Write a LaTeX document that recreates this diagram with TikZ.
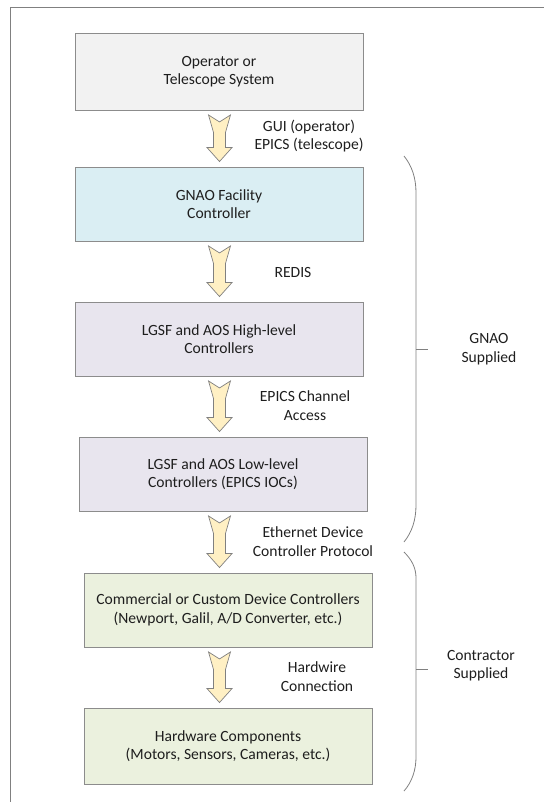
\documentclass[tikz,border=0pt]{standalone}
\usepackage{fontspec}
\setmainfont{Carlito}
\usetikzlibrary{calc}
\definecolor{lineg}{HTML}{808080}
\definecolor{boxline}{HTML}{8C8C8C}
\definecolor{txt}{HTML}{1E1E1E}
\definecolor{fillgray}{HTML}{F2F2F2}
\definecolor{fillblue}{HTML}{DAEEF3}
\definecolor{filllav}{HTML}{E8E5EE}
\definecolor{fillgreen}{HTML}{EBF1DE}
\definecolor{arrowfill}{HTML}{FFF0C4}
\tikzset{
  boxstyle/.style={draw=boxline, line width=0.9pt, minimum width=288pt, align=center, text=txt,
    font=\fontsize{15.6}{18.5}\selectfont, inner sep=0pt},
  labelstyle/.style={align=center, text=txt, font=\fontsize{15.6}{18.5}\selectfont, inner sep=0pt},
  arrowstyle/.style={draw=lineg, fill=arrowfill, line width=0.7pt, line join=miter},
  bracestyle/.style={draw=lineg, line width=0.8pt},
}
\newcommand\flowarrow[2]{%
  \path[arrowstyle] let \p1=(#1.south), \p2=(#2.north) in
    (208.5pt,{\y1-4.5pt}) -- (219.5pt,{\y1-11.5pt}) -- (230.5pt,{\y1-4.5pt}) -- (225.5pt,{\y1-22pt})
    -- (225.5pt,{\y2+19pt}) -- (232pt,{\y2+19pt}) -- (219.5pt,{\y2+5pt})
    -- (207pt,{\y2+19pt}) -- (213.5pt,{\y2+19pt}) -- (213.5pt,{\y1-22pt}) -- cycle;%
}
\begin{document}
\begin{tikzpicture}[x=1pt,y=-1pt]
\useasboundingbox (0,0) rectangle (544,802);
% frame
\draw[lineg, line width=0.8pt] (10.5,802) -- (10.5,7.5) -- (544,7.5);
% boxes
\node[boxstyle, fill=fillgray, minimum height=77pt] (b1) at (219,71.5) {Operator or\\Telescope System};
\node[boxstyle, fill=fillblue, minimum height=74pt] (b2) at (219,204) {GNAO Facility\\Controller};
\node[boxstyle, fill=filllav, minimum height=74pt] (b3) at (219,339) {LGSF and AOS High-level\\Controllers};
\node[boxstyle, fill=filllav, minimum height=74pt] (b4) at (223,474) {LGSF and AOS Low-level\\Controllers (EPICS IOCs)};
\node[boxstyle, fill=fillgreen, minimum height=74pt] (b5) at (228,610) {Commercial or Custom Device Controllers\\(Newport, Galil, A/D Converter, etc.)};
\node[boxstyle, fill=fillgreen, minimum height=76pt] (b6) at (228,746) {Hardware Components\\(Motors, Sensors, Cameras, etc.)};
% arrows
\flowarrow{b1}{b2}
\flowarrow{b2}{b3}
\flowarrow{b3}{b4}
\flowarrow{b4}{b5}
\flowarrow{b5}{b6}
% arrow labels
\node[labelstyle] (l1) at (309,136) {GUI (operator)\\EPICS (telescope)};
\node[labelstyle] (l2) at (293,272) {REDIS};
\node[labelstyle] (l3) at (305,405.5) {EPICS Channel\\Access};
\node[labelstyle] (l4) at (313,541.5) {Ethernet Device\\Controller Protocol};
\node[labelstyle] (l5) at (317,676.5) {Hardwire\\Connection};
% braces
\draw[bracestyle] (404,156) .. controls (412,166) and (416,178) .. (416,193) -- (416,505)
  .. controls (416,520) and (412,532) .. (404,542);
\draw[bracestyle] (416,349) -- (428,349);
\draw[bracestyle] (404,552) .. controls (412,560) and (416,568) .. (416,578) -- (416,757)
  .. controls (416,770) and (412,782) .. (404,791);
\draw[bracestyle] (416,669) -- (428,669);
\node[labelstyle] (g1) at (489,349) {GNAO\\Supplied};
\node[labelstyle] (g2) at (481,665.5) {Contractor\\Supplied};
\end{tikzpicture}
\end{document}
